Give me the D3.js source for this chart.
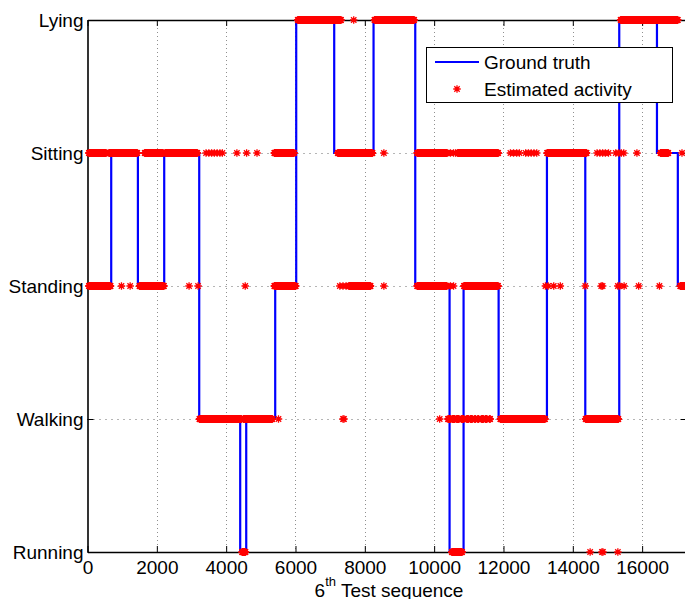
<!DOCTYPE html>
<html>
<head>
<meta charset="utf-8">
<script src="https://cdn.jsdelivr.net/npm/d3@7"></script>
<style>
  html, body { margin: 0; padding: 0; background: #fff; }
  svg { display: block; font-family: "Liberation Sans", Arial, Helvetica, sans-serif; }
</style>
</head>
<body>
<svg id="chart" width="685" height="599"></svg>
<script>
// Activity classes, bottom to top
const activities = ["Running", "Walking", "Standing", "Sitting", "Lying"];
const xTickValues = [0, 2000, 4000, 6000, 8000, 10000, 12000, 14000, 16000];
const sequenceLength = 17280;

// Ground truth: sample index at which each labelled activity begins
const truthStart = [0, 684, 1454, 2213, 3223, 4405, 4579, 5415, 6021, 7117,
  8252, 9455, 10445, 10849, 11860, 13254, 14360, 15340, 16428, 17030];
const truthActivity = ["Standing", "Sitting", "Standing", "Sitting", "Walking",
  "Running", "Walking", "Standing", "Lying", "Sitting", "Lying", "Standing",
  "Running", "Standing", "Walking", "Sitting", "Walking", "Lying", "Sitting", "Standing"];

// Estimated activity, run-length encoded as [first sample, last sample] per class
const estLying = [[6065, 7320], [7680, 7680], [8280, 9430], [15380, 17030]];
const estSitting = [
  [40, 540], [620, 1440], [1650, 2180], [2240, 3170],
  [3420, 3420], [3500, 3500], [3580, 3580], [3660, 3660], [3740, 3740], [3820, 3820], [3890, 3890],
  [4310, 4310], [4590, 4590], [4890, 4890],
  [5390, 5960], [7220, 8220], [8550, 8550],
  [9510, 10380], [10470, 10470], [10560, 10560], [10620, 10620], [10680, 11850],
  [12200, 12200], [12290, 12290], [12380, 12380], [12460, 12460],
  [12640, 12640], [12720, 12720], [12800, 12800], [12880, 12880], [12960, 12960],
  [13260, 14400],
  [14700, 14700], [14780, 14780], [14860, 14860], [14940, 14940], [15030, 15030],
  [15240, 15240], [15320, 15320], [15400, 15400], [15470, 15470],
  [15850, 15850], [16530, 16760], [17150, 17150]
];
const estStanding = [
  [40, 670], [980, 980], [1230, 1230], [1500, 2210], [2930, 2930], [3190, 3190], [4550, 4550],
  [5390, 6010], [7280, 7280], [7370, 7370], [7460, 7460], [7540, 8170], [8550, 8550],
  [9510, 10370], [10470, 10470], [10560, 10560], [10860, 11850],
  [13210, 13210], [13290, 13290], [13450, 13450], [13640, 13640],
  [14360, 14360], [14820, 14820], [14860, 14860],
  [15300, 15300], [15350, 15350], [15480, 15480],
  [15900, 15900], [16500, 16500], [17100, 17250]
];
const estWalking = [
  [3230, 4440], [4500, 5335], [5510, 5510], [7370, 7370], [7400, 7400],
  [10160, 10160], [10400, 10480], [10530, 10600], [10650, 10720], [10790, 10850],
  [10940, 10990], [11050, 11100], [11170, 11200], [11260, 11290],
  [11370, 11420], [11480, 11520], [11600, 11620],
  [11910, 13200], [14370, 15320]
];
const estRunning = [[4460, 4560], [10510, 10810], [14500, 14500], [14840, 14840], [14870, 14870], [15300, 15300]];

const sampleStep = 8;

const svg = d3.select("#chart");
const plot = { left: 87.5, right: 686.5, top: 20, bottom: 552 };

const x = d3.scaleLinear().domain([0, sequenceLength]).range([plot.left, plot.right]);
const y = d3.scaleLinear().domain([0, activities.length - 1]).range([plot.bottom, plot.top]);
const level = name => activities.indexOf(name);

// Grid
const grid = svg.append("g");
grid.selectAll("line.vx")
  .data(xTickValues.filter(v => v > 0))
  .join("line")
  .attr("x1", d => Math.round(x(d)) + 0.5).attr("x2", d => Math.round(x(d)) + 0.5)
  .attr("y1", plot.top).attr("y2", plot.bottom)
  .attr("stroke", "#8f8f8f").attr("stroke-width", 1).attr("stroke-dasharray", "1,3");
grid.selectAll("line.hy")
  .data(d3.range(1, activities.length - 1))
  .join("line")
  .attr("x1", plot.left).attr("x2", plot.right)
  .attr("y1", d => Math.round(y(d)) + 0.5).attr("y2", d => Math.round(y(d)) + 0.5)
  .attr("stroke", "#6a6a6a").attr("stroke-width", 1).attr("stroke-dasharray", "1,5");

// Axes (ticks pointing inward)
const fontSize = 19;
const xAxis = svg.append("g").attr("transform", `translate(0,${plot.bottom})`)
  .call(d3.axisBottom(x).tickValues(xTickValues).tickFormat(d3.format("d"))
    .tickSize(-6).tickSizeOuter(0).tickPadding(9));
const xAxisTop = svg.append("g").attr("transform", `translate(0,${plot.top})`)
  .call(d3.axisTop(x).tickValues(xTickValues).tickFormat("").tickSize(-6).tickSizeOuter(0));
const yAxis = svg.append("g").attr("transform", `translate(${plot.left},0)`)
  .call(d3.axisLeft(y).tickValues(d3.range(activities.length)).tickFormat(i => activities[i])
    .tickSize(-6).tickSizeOuter(0).tickPadding(4));
const yAxisRight = svg.append("g").attr("transform", `translate(${plot.right},0)`)
  .call(d3.axisRight(y).tickValues(d3.range(activities.length)).tickFormat("").tickSize(-6).tickSizeOuter(0));

[xAxis, xAxisTop, yAxis, yAxisRight].forEach(g => {
  g.selectAll(".domain").attr("stroke", "#000").attr("stroke-width", 1.6);
  g.selectAll(".tick line").attr("stroke", "#000").attr("stroke-width", 1);
  g.selectAll("text").attr("fill", "#000").style("font-size", fontSize + "px")
    .style("font-family", "'Liberation Sans', Arial, Helvetica, sans-serif");
});

// Ground truth step line
const truthPoints = truthStart.map((s, i) => [s, level(truthActivity[i])]);
truthPoints.push([sequenceLength, level(truthActivity[truthActivity.length - 1])]);
const stepLine = d3.line().x(d => x(d[0])).y(d => y(d[1])).curve(d3.curveStepAfter);
svg.append("path")
  .datum(truthPoints)
  .attr("d", stepLine)
  .attr("fill", "none")
  .attr("stroke", "#0000ff")
  .attr("stroke-width", 2.2);

// Estimated activity markers (asterisks)
const asterisk = {
  draw(ctx, size) {
    const r = Math.sqrt(size) / 2, d = r * 0.72;
    ctx.moveTo(-r, 0); ctx.lineTo(r, 0);
    ctx.moveTo(0, -r); ctx.lineTo(0, r);
    ctx.moveTo(-d, -d); ctx.lineTo(d, d);
    ctx.moveTo(-d, d); ctx.lineTo(d, -d);
  }
};
const marker = d3.symbol().type(asterisk).size(56);

const estimated = [
  ["Running", estRunning], ["Walking", estWalking], ["Standing", estStanding],
  ["Sitting", estSitting], ["Lying", estLying]
];
const estPoints = [];
estimated.forEach(([name, runs]) => {
  runs.forEach(([a, b]) => {
    for (let s = a; s <= b; s += sampleStep) estPoints.push({ s, v: level(name) });
  });
});
svg.append("g")
  .selectAll("path")
  .data(estPoints)
  .join("path")
  .attr("transform", d => `translate(${x(d.s)},${y(d.v)})`)
  .attr("d", marker)
  .attr("fill", "none")
  .attr("stroke", "#ff0000")
  .attr("stroke-width", 1.3);

// Legend
const legend = svg.append("g").attr("transform", "translate(426.5,47.5)");
legend.append("rect").attr("width", 246).attr("height", 55)
  .attr("fill", "#fff").attr("stroke", "#000").attr("stroke-width", 1);
legend.append("line").attr("x1", 8.5).attr("x2", 52.5).attr("y1", 14.5).attr("y2", 14.5)
  .attr("stroke", "#0000ff").attr("stroke-width", 2.2);
legend.append("path").attr("transform", "translate(30.5,41.5)").attr("d", marker)
  .attr("fill", "none").attr("stroke", "#ff0000").attr("stroke-width", 1.3);
legend.append("text").attr("x", 57.5).attr("y", 21).style("font-size", fontSize + "px")
  .text("Ground truth");
legend.append("text").attr("x", 57.5).attr("y", 48).style("font-size", fontSize + "px")
  .text("Estimated activity");

// X axis label with superscript
const xLabel = svg.append("text")
  .attr("x", 389).attr("y", 597)
  .attr("text-anchor", "middle")
  .style("font-size", fontSize + "px");
xLabel.append("tspan").text("6");
xLabel.append("tspan").attr("dy", -11).style("font-size", "13px").text("th");
xLabel.append("tspan").attr("dy", 11).text(" Test sequence");
</script>
</body>
</html>
